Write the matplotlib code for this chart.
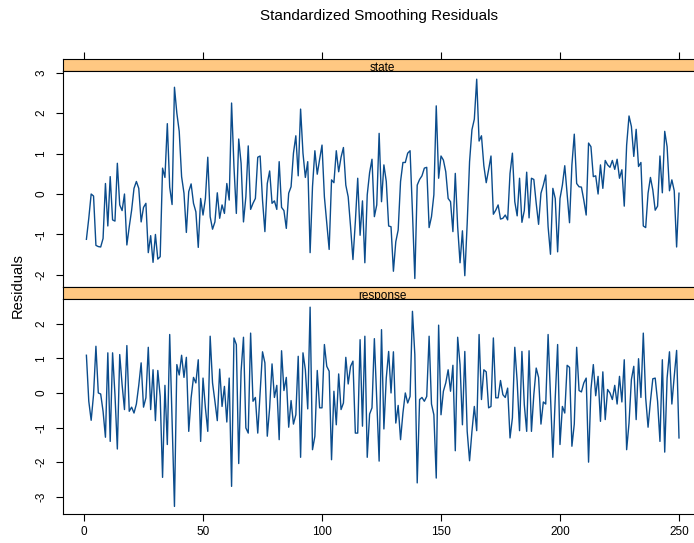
import numpy as np
import matplotlib.pyplot as plt

plt.rcParams['font.family'] = ['Liberation Sans', 'DejaVu Sans']
plt.rcParams['axes.unicode_minus'] = False

# standardized smoothing residuals (t = 1..250)
state = [
    -1.12, -0.6, 0.0, -0.05, -1.27, -1.3, -1.31, -1.1, 0.26, -0.79,
    0.43, -0.64, -0.67, 0.76, -0.27, -0.41, 0.0, -1.26, -0.81, -0.4,
    0.14, 0.31, 0.14, -0.69, -0.33, -0.23, -1.45, -1.03, -1.69, -1.0,
    -1.61, -1.55, 0.64, 0.41, 1.74, 0.17, -0.26, 2.64, 2.0, 1.55,
    0.43, 0.02, -0.95, 0.06, 0.25, -0.23, -0.44, -1.32, -0.11, -0.52,
    -0.11, 0.91, -0.56, -0.87, -0.69, 0.03, -0.6, -0.27, -0.48, 0.26,
    -0.15, 2.25, 0.68, -0.48, 1.36, 0.76, -0.69, -0.07, 1.19, -0.38,
    -0.23, -0.11, 0.91, 0.94, -0.15, -0.93, 0.26, 0.57, -0.23, -0.17,
    -0.38, 0.8, -0.33, -0.41, -0.85, 0.02, 0.18, 1.01, 1.44, 0.45,
    2.1, 1.01, 0.41, 0.8, -1.45, 0.18, 1.07, 0.49, 0.86, 1.21,
    -0.07, -0.73, -1.37, 0.35, 0.28, 1.07, 0.55, 0.91, 1.15, 0.22,
    -0.07, -0.81, -1.62, -0.69, 0.39, -1.02, -0.17, -1.7, -0.02, 0.53,
    0.86, -0.56, -0.27, 1.5, -0.19, 0.72, 0.31, -0.79, -0.81, -1.91,
    -1.18, -0.89, 0.31, 0.78, 0.78, 1.01, 1.07, -0.44, -2.09, 0.22,
    0.36, 0.45, 0.64, 0.66, -0.83, -0.56, -0.02, 2.18, 0.39, 0.94,
    0.84, 0.55, -0.11, -0.19, -0.93, 0.51, -0.81, -1.7, -0.91, -2.02,
    -0.73, 0.8, 1.59, 1.85, 2.84, 1.31, 1.44, 0.7, 0.28, 0.6,
    0.94, -0.5, -0.4, -0.27, -0.62, -0.6, -0.52, -0.64, 0.51, 1.01,
    -0.19, -0.54, 0.39, -0.7, -0.41, 0.54, -0.59, 0.39, 0.36, -0.23,
    -0.75, 0.02, 0.22, 0.47, -0.81, -1.49, 0.14, -0.11, -1.43, -0.11,
    0.22, 0.7, -0.02, -0.71, 0.72, 1.48, 0.26, 0.18, 0.17, -0.15,
    -0.52, 1.26, 1.17, 0.43, 0.45, 0.0, 0.72, 0.14, 0.83, 0.72,
    0.66, 0.83, 0.61, 0.86, 0.39, 0.6, -0.3, 1.21, 1.93, 1.67,
    0.93, 1.6, 0.68, 0.78, -0.79, -0.83, 0.02, 0.41, 0.1, -0.4,
    -0.3, 0.94, 0.03, 1.55, 1.17, 0.08, 0.35, 0.08, -1.31, 0.02,
]

response = [
    1.09, -0.24, -0.79, -0.05, 1.35, 0.0, -0.03, -0.53, -1.28, 1.16,
    -1.4, 1.16, -0.05, -1.62, 1.11, 0.24, -0.48, 1.37, -0.53, -0.41,
    -0.58, -0.32, 0.22, 0.87, -0.41, -0.14, 1.32, -0.48, 0.67, -0.8,
    0.65, -0.1, -2.44, 0.22, -1.49, 1.69, -0.8, -3.28, 0.82, 0.52,
    1.09, 0.45, 1.03, -1.11, -0.14, 0.45, 0.29, 0.96, -1.4, 0.43,
    -0.43, -1.11, 1.64, 0.29, -0.24, -0.8, 0.69, -0.39, 0.19, -0.84,
    0.43, -2.7, 1.59, 1.4, -2.04, 0.63, 1.61, -1.01, -1.16, 1.73,
    -0.24, -0.13, -1.16, 0.0, 1.19, 0.87, -1.25, -0.43, 0.84, -0.13,
    0.22, -1.35, 1.22, 0.07, 0.45, -0.99, -0.22, -0.9, -0.63, 1.06,
    -1.86, 1.16, 0.67, -0.46, 2.48, -1.64, -1.25, 0.65, -0.43, -0.43,
    1.4, 0.77, 0.63, -1.93, 0.05, -0.92, 0.55, -0.48, -0.29, 1.03,
    0.26, 0.77, 0.92, -1.16, -1.16, 1.54, -0.96, 1.64, -1.86, -0.61,
    -0.43, 1.57, -0.22, -1.97, 1.83, -1.04, 0.43, 1.2, 0.0, 1.19,
    -0.87, -0.36, -1.35, -0.58, 0.0, -0.29, -0.1, 2.36, 1.11, -2.6,
    -0.19, -0.13, -0.24, -0.1, 1.64, -0.32, -0.63, -2.46, 1.96, -0.63,
    0.05, 0.29, 0.67, 0.05, 0.8, -1.67, 1.61, 0.82, -0.92, 1.2,
    -1.11, -1.96, -1.11, -0.39, -1.09, 1.69, -0.19, 0.67, 0.61, -0.43,
    -0.39, 1.59, -0.14, -0.14, 0.36, -0.05, -0.13, 0.14, -1.3, -0.72,
    1.32, 0.34, -1.09, 1.2, -0.34, -1.11, 1.22, -1.11, -0.05, 0.72,
    0.45, -0.9, -0.26, -0.32, 1.69, -0.05, -1.86, -0.14, 1.4, -1.49,
    -0.39, -0.58, 0.8, 0.74, -1.54, -0.9, 1.32, 0.07, 0.03, 0.29,
    0.43, -2.0, 0.1, 0.82, -0.08, 0.48, -0.82, 0.61, -0.77, 0.1,
    0.0, -0.19, 0.22, -0.32, 0.48, -0.26, 0.96, -1.64, -0.87, 0.39,
    0.77, -0.77, 0.99, -0.13, 1.73, -0.14, -0.99, -0.24, 0.41, 0.43,
    -0.24, -1.4, 0.96, -1.71, 0.43, 1.19, -0.32, 0.48, 1.23, -1.3,
]

panels = ['state', 'response']
series = [state, response]
x_ticks = [0, 50, 100, 150, 200, 250]
y_ticks = [[-2, -1, 0, 1, 2, 3], [-3, -2, -1, 0, 1, 2]]

line_col = '#0b4c8c'
strip_col = '#ffc882'

W, H = 694, 543
fig = plt.figure(figsize=(W / 100, H / 100), dpi=100)


def px_axes(x0, y0, x1, y1):
    return fig.add_axes([x0 / W, 1 - y1 / H, (x1 - x0) / W, (y1 - y0) / H])


t = np.arange(1, len(state) + 1)
pad = 0.04 * (t[-1] - t[0])
xlim = (t[0] - pad, t[-1] + pad)

x0, x1 = 62.7, 702.7
# (strip top, strip bottom / panel top, panel bottom)
rows = [(58.5, 71.2, 286.5), (286.5, 299.2, 514.4)]

for i, (name, vals) in enumerate(zip(panels, series)):
    s_top, p_top, p_bot = rows[i]
    strip = px_axes(x0, s_top, x1, p_top)
    strip.set_facecolor(strip_col)
    strip.set_xlim(xlim)
    strip.set_yticks([])
    strip.text(0.5, 0.25, name, transform=strip.transAxes, ha='center',
               va='center', fontsize=8.5)
    if i == 0:
        strip.xaxis.tick_top()
        strip.set_xticks(x_ticks)
        strip.tick_params(axis='x', length=5, width=0.8, labeltop=False)
    else:
        strip.set_xticks([])

    ax = px_axes(x0, p_top, x1, p_bot)
    ax.plot(t, vals, color=line_col, lw=1.0)
    ax.set_xlim(xlim)
    v = np.array(vals)
    rng = v.max() - v.min()
    ax.set_ylim(v.min() - 0.04 * rng, v.max() + 0.04 * rng)
    ax.set_yticks(y_ticks[i])
    ax.tick_params(axis='y', length=5, width=0.8, labelsize=8.5,
                   labelrotation=90, pad=6)
    for lab in ax.get_yticklabels():
        lab.set_va('center')
    if i == 1:
        ax.set_xticks(x_ticks)
        ax.tick_params(axis='x', length=5, width=0.8, labelsize=8.5, pad=3)
    else:
        ax.set_xticks([])
    for a in (strip, ax):
        for sp in a.spines.values():
            sp.set_linewidth(0.8)

fig.text(379 / W, 1 - 16 / H, 'Standardized Smoothing Residuals',
         ha='center', va='center', fontsize=11)
fig.text(18 / W, 1 - 286 / H, 'Residuals', rotation=90,
         ha='center', va='center', fontsize=10.5)

fig.savefig('out.png', dpi=100)
